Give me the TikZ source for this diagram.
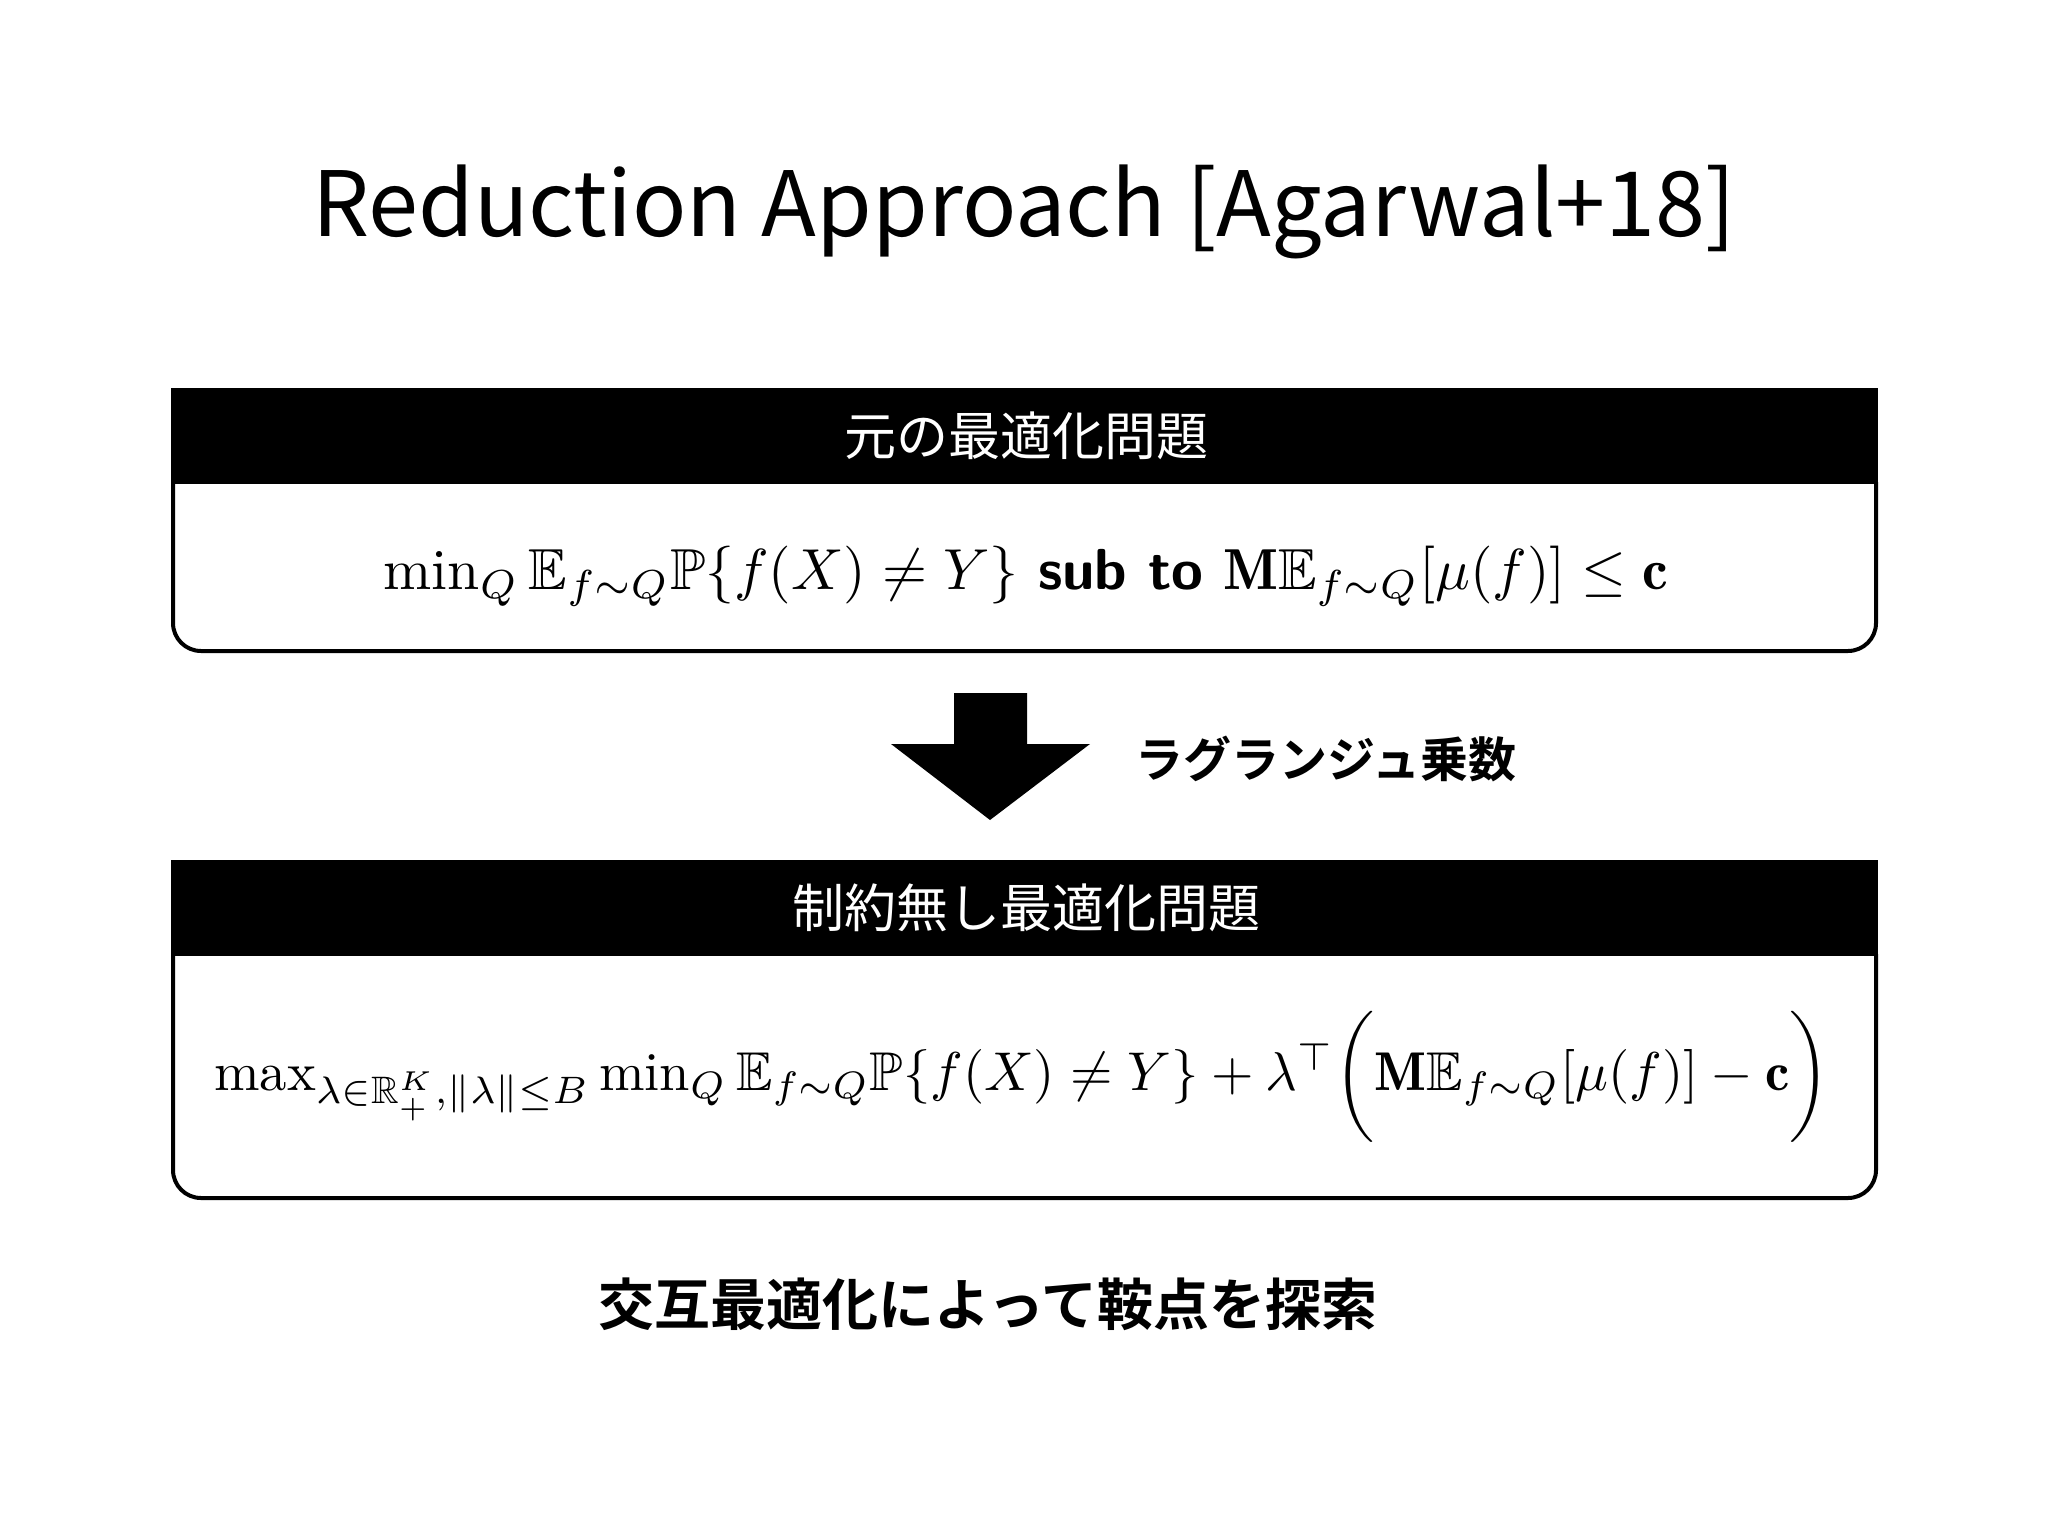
\documentclass[tikz,border=0pt]{standalone}
\usepackage{amsmath,amssymb,graphicx}
\usepackage{fontspec}
\newfontfamily\cjk{Noto Sans CJK JP}
\newfontfamily\cjkb{Noto Sans CJK JP}[BoldFont={Noto Sans CJK JP Bold}]
\begin{document}
\begin{tikzpicture}[x=1pt,y=-1pt,
  hdr/.style={fill=black,draw=black,line width=4pt},
  bx/.style={draw=black,line width=4pt,rounded corners=28pt},
  hdrtxt/.style={text=white,font=\cjk\fontsize{52}{60}\selectfont},
  frm/.style={inner sep=0pt}]
\useasboundingbox (0,0) rectangle (2048,1536);
\fill[white] (0,0) rectangle (2048,1536);
\node (title) at (1024,212) {\cjk\fontsize{90}{100}\selectfont Reduction Approach [Agarwal+18]};
% box 1
\draw[bx] (173,482) -- (173,651) -- (1876,651) -- (1876,482);
\fill[hdr] (173,390) rectangle (1876,482);
\node[hdrtxt] (h1) at (1026,436) {元の最適化問題};
\node[frm] (f1) at (1026,576) {\resizebox{1285pt}{!}{$\min_Q \mathbb{E}_{f\sim Q}\mathbb{P}\{f(X)\neq Y\}$ {\sffamily\bfseries sub to} $\mathbf{M}\mathbb{E}_{f\sim Q}[\mu(f)]\le \mathbf{c}$}};
% arrow
\fill (954,693) -- (1027,693) -- (1027,744) -- (1090,744) -- (990,820) -- (891,744) -- (954,744) -- cycle;
\node[anchor=west,font=\cjkb\bfseries\fontsize{48}{52}\selectfont] (lag) at (1132,759) {ラグランジュ乗数};
% box 2
\draw[bx] (173,954) -- (173,1198) -- (1876,1198) -- (1876,954);
\fill[hdr] (173,862) rectangle (1876,954);
\node[hdrtxt] (h2) at (1026,908) {制約無し最適化問題};
\node[frm] (f2) at (1022,1077) {\resizebox{1615pt}{!}{$\max_{\lambda\in\mathbb{R}^K_+,\|\lambda\|\le B}\min_Q \mathbb{E}_{f\sim Q}\mathbb{P}\{f(X)\neq Y\}+\lambda^{\top}\bigg(\mathbf{M}\mathbb{E}_{f\sim Q}[\mu(f)]-\mathbf{c}\bigg)$}};
\node[font=\cjkb\bfseries\fontsize{56}{62}\selectfont] (bt) at (988,1304) {交互最適化によって鞍点を探索};
\end{tikzpicture}
\end{document}
